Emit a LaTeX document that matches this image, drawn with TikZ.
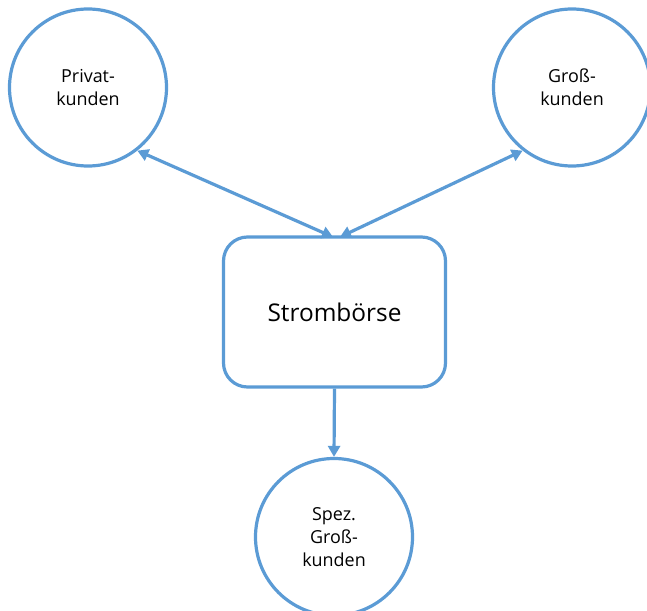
\documentclass[tikz,border=0pt]{standalone}
\usepackage{fontspec}
\setmainfont{Open Sans}
\usetikzlibrary{arrows.meta}
\definecolor{ablue}{HTML}{5B9BD5}
\begin{document}
\begin{tikzpicture}[x=1bp,y=-1bp,
  circ/.style={circle,draw=ablue,line width=3.2bp,minimum size=157bp,inner sep=0pt,align=center,font=\fontsize{18}{23}\selectfont},
  box/.style={rectangle,rounded corners=24bp,draw=ablue,line width=3.2bp,minimum width=222bp,minimum height=150bp,inner sep=0pt,font=\fontsize{24.5}{28}\selectfont},
  conn/.style={draw=ablue,line width=3.2bp,-{Triangle[length=11bp,width=12bp]}},
  dconn/.style={draw=ablue,line width=3.2bp,{Triangle[length=11bp,width=12bp]}-{Triangle[length=11bp,width=12bp]}}]
\useasboundingbox (0,0) rectangle (647,611);
\node[circ] (pk) at (88,87.5) {Privat-\\kunden};
\node[circ] (gk) at (572,87.5) {Groß-\\kunden};
\node[box] (sb) at (334.5,312) {Strombörse};
\node[circ] (sg) at (334,537) {Spez.\\Groß-\\kunden};
\coordinate (t1) at (333,237);
\coordinate (t2) at (340,237);
\draw[dconn] (pk.-52) -- (t1);
\draw[dconn] (gk.-128) -- (t2);
\draw[conn] (sb.south) -- (sg.north);
\end{tikzpicture}
\end{document}
